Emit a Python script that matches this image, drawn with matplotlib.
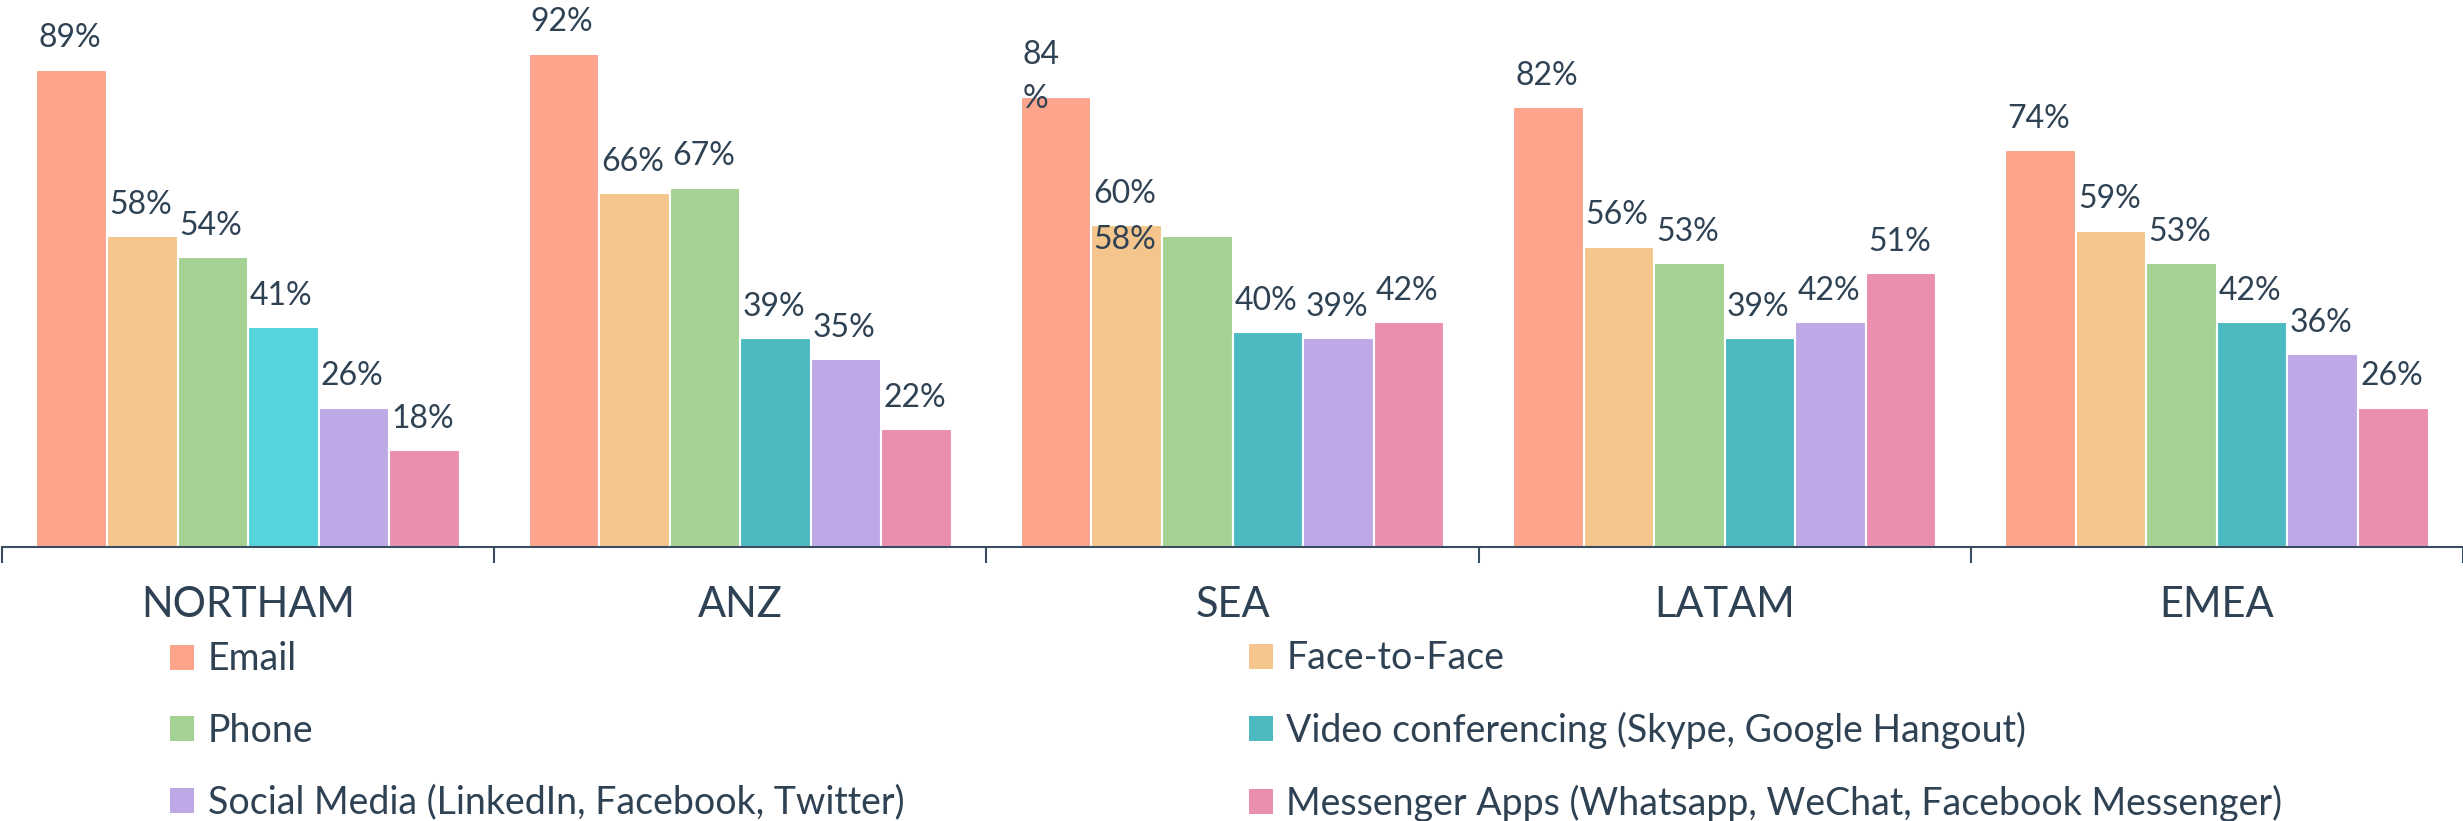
import matplotlib
matplotlib.use('Agg')
import matplotlib.pyplot as plt
import numpy as np

regions = ['NORTHAM', 'ANZ', 'SEA', 'LATAM', 'EMEA']
channels = ['Email', 'Face-to-Face', 'Phone',
            'Video conferencing (Skype, Google Hangout)',
            'Social Media (LinkedIn, Facebook, Twitter)',
            'Messenger Apps (Whatsapp, WeChat, Facebook Messenger)']

email = [89, 92, 84, 82, 74]
face_to_face = [58, 66, 60, 56, 59]
phone = [54, 67, 58, 53, 53]
video = [41, 39, 40, 39, 42]
social = [26, 35, 39, 42, 36]
messenger = [18, 22, 42, 51, 26]

series = [email, face_to_face, phone, video, social, messenger]
colors = ['#fca58c', '#f4c68d', '#a3d292', '#4bbac1', '#bea8e6', '#ea90ae']
video_colors = ['#55d4db', '#4bbac1', '#4bbac1', '#4bbac1', '#4bbac1']

txt = '#2f4254'
axis_col = '#3a4d60'
plt.rcParams['font.family'] = ['Lato', 'DejaVu Sans']

W, H = 2463, 821
fig = plt.figure(figsize=(W / 100, H / 100), dpi=100)
ax = fig.add_axes([2 / W, 274 / H, 1 - 2 / W, 547 / H])

x = np.arange(len(regions)) + 0.5
bw = 0.86 / len(series)

for i, (vals, col) in enumerate(zip(series, colors)):
    lefts = x - 0.43 + i * bw
    c = video_colors if i == 3 else col
    ax.bar(lefts, vals, width=bw, align='edge', color=c,
           edgecolor='white', linewidth=1.5, label=channels[i])
    for j, v in enumerate(vals):
        label = f'{v}%'
        xy = (lefts[j], v)
        off = (1.5, 16)
        if i == 0 and regions[j] == 'SEA':
            # wrapped label, the % drops onto the bar
            label = '84\n%'
            off = (1.5, -8.5)
        if i == 2 and regions[j] == 'SEA':
            # this one sits on the neighbouring bar, under its label
            xy = (lefts[j] - bw, v)
            off = (1.5, -9.5)
        ax.annotate(label, xy=xy, xytext=off, textcoords='offset points',
                    ha='left', va='baseline', fontsize=23, color=txt,
                    linespacing=1.6, annotation_clip=False)

ax.set_xlim(0, 5)
ax.set_ylim(0, 102)
ax.set_yticks([])
for s in ['top', 'left', 'right']:
    ax.spines[s].set_visible(False)
ax.spines['bottom'].set_color(axis_col)
ax.spines['bottom'].set_linewidth(1.5)

ax.set_xticks(range(6))
ax.set_xticklabels([])
ax.set_xticks(x, minor=True)
ax.set_xticklabels(regions, minor=True, fontsize=30, color=txt)
ax.tick_params(which='major', length=11.5, width=1.5, color=axis_col)
ax.tick_params(which='minor', length=0, pad=28)

handles, labels = ax.get_legend_handles_labels()
leg_kw = dict(loc='center left', frameon=False, fontsize=27, labelcolor=txt,
              borderpad=0, borderaxespad=0, handlelength=0.65, handleheight=0.65,
              handletextpad=0.35, labelspacing=0.95)
leg1 = fig.legend(handles[0::2], labels[0::2],
                  bbox_to_anchor=(170 / W, 1 - 731 / H), **leg_kw)
leg2 = fig.legend(handles[1::2], labels[1::2],
                  bbox_to_anchor=(1249 / W, 1 - 731 / H), **leg_kw)
for leg in (leg1, leg2):
    for p in leg.get_patches():
        p.set_edgecolor('none')
leg2.get_patches()[1].set_facecolor('#4bbac1')

fig.savefig('out.png', dpi=100)
